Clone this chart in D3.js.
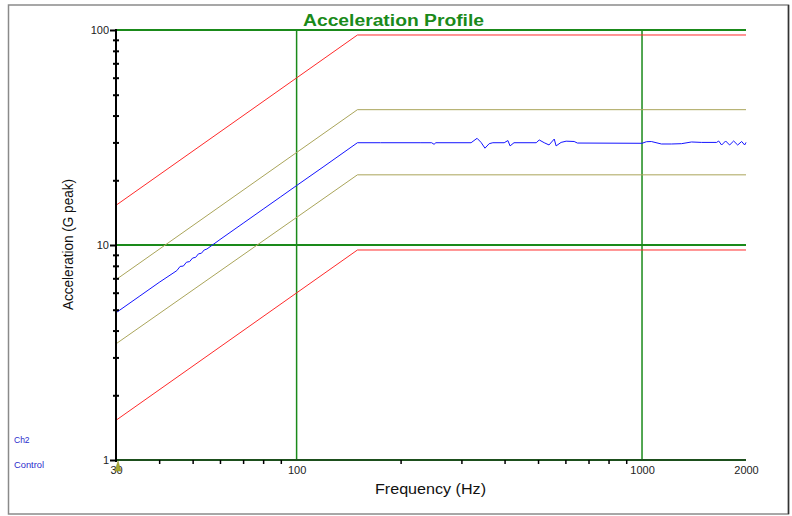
<!DOCTYPE html>
<html>
<head>
<meta charset="utf-8">
<script src="https://cdn.jsdelivr.net/npm/d3@7"></script>
<style>
  html, body { margin: 0; padding: 0; background: #fff; }
  svg { display: block; font-family: "Liberation Sans", Arial, sans-serif; }
</style>
</head>
<body>
<svg id="chart" width="792" height="516"></svg>
<script>
// ---- data ----
const profileFreq = [30, 150, 2000];
const abortHighG = [15.3, 94.8, 94.8];
const alarmHighG = [6.9, 42.6, 42.6];
const alarmLowG  = [3.47, 21.2, 21.2];
const abortLowG  = [1.53, 9.48, 9.48];

const controlFreq = [30, 35, 40, 45, 46, 47, 48, 49, 50, 51, 52, 53, 54, 55, 60, 70, 80, 90, 100, 120, 150,
  175, 229, 246, 250, 253, 320, 333, 342, 351, 361, 370, 399, 409, 415, 426, 494, 504, 521, 538, 557, 564,
  583, 603, 636, 650, 1000, 1030, 1064, 1138, 1217, 1301, 1391, 1487, 1644, 1667, 1700, 1746, 1793, 1842,
  1892, 1943, 1982, 2000];
const controlG = [4.84, 5.76, 6.70, 7.60, 7.95, 7.98, 8.32, 8.37, 8.70, 8.76, 9.10, 9.15, 9.48, 9.58, 10.60,
  12.62, 14.68, 16.77, 18.9, 23.2, 29.9,
  29.9, 29.9, 29.9, 29.4, 29.9, 29.9, 31.35, 30.0, 28.2, 29.6, 29.9, 29.9, 30.6, 28.9, 29.9, 29.9, 30.8,
  29.9, 29.2, 31.1, 28.9, 30.0, 30.4, 30.3, 29.8, 29.72, 30.23, 30.29, 29.5, 29.5, 29.6, 30.14, 30.0,
  30.0, 30.46, 29.18, 30.46, 29.18, 30.46, 29.18, 30.3, 29.18, 30.0];

const yMajorTicks = [1, 10, 100];
const yMinorTicks = [2, 3, 4, 5, 6, 7, 8, 9, 20, 30, 40, 50, 60, 70, 80, 90];
const xTickLabels = [30, 100, 1000, 2000];
const xMinorTicks = [40, 50, 60, 70, 80, 90, 200, 300, 400, 500, 600, 700, 800, 900];
const gridY = [10, 100];
const gridX = [100, 1000];

// ---- drawing ----
const svg = d3.select("#chart");
const x = d3.scaleLog().domain([30, 2000]).range([116, 746]);
const y = d3.scaleLog().domain([1, 100]).range([460, 30]);

// frame
svg.append("rect").attr("x", 8.5).attr("y", 5).attr("width", 780).attr("height", 509)
  .attr("fill", "#fff").attr("stroke", "#8a8a8a").attr("stroke-width", 1.5);
svg.append("line").attr("x1", 788.5).attr("x2", 788.5).attr("y1", 5).attr("y2", 514)
  .attr("stroke", "#333").attr("stroke-width", 1.5);

// title
svg.append("text").attr("x", 393.5).attr("y", 26).attr("text-anchor", "middle")
  .attr("font-size", 16).attr("font-weight", "bold").attr("fill", "#1a8a1a")
  .attr("textLength", 181).attr("lengthAdjust", "spacingAndGlyphs")
  .text("Acceleration Profile");

// grid
svg.selectAll(".gy").data(gridY).join("line")
  .attr("x1", x(30)).attr("x2", x(2000)).attr("y1", d => y(d)).attr("y2", d => y(d))
  .attr("stroke", "#1a8a1a").attr("stroke-width", 2);
svg.selectAll(".gx").data(gridX).join("line")
  .attr("x1", d => x(d)).attr("x2", d => x(d)).attr("y1", y(100)).attr("y2", y(1))
  .attr("stroke", "#1a8a1a").attr("stroke-width", 1.5);

// lines
const line = d3.line().x(d => x(d[0])).y(d => y(d[1]));
const series = [
  { f: profileFreq, v: abortHighG, c: "#ff2a2a" },
  { f: profileFreq, v: abortLowG, c: "#ff2a2a" },
  { f: profileFreq, v: alarmHighG, c: "#aaa55a" },
  { f: profileFreq, v: alarmLowG, c: "#aaa55a" },
  { f: controlFreq, v: controlG, c: "#1414ff" }
];
series.forEach(s => {
  svg.append("path").datum(s.f.map((f, i) => [f, s.v[i]]))
    .attr("d", line).attr("fill", "none").attr("stroke", s.c).attr("stroke-width", 1);
});

// bottom axis line
svg.append("line").attr("x1", x(30)).attr("x2", x(2000)).attr("y1", y(1)).attr("y2", y(1))
  .attr("stroke", "#1d4f1d").attr("stroke-width", 2);

// x minor ticks
const xMinor = svg.append("g").attr("transform", `translate(0,${y(1)})`)
  .call(d3.axisBottom(x).tickValues(xMinorTicks).tickSize(4).tickFormat(""));
xMinor.select(".domain").remove();
xMinor.selectAll("line").attr("stroke", "#000").attr("stroke-width", 1.5);

// x labels
const xLab = svg.append("g").attr("transform", `translate(0,${y(1)})`)
  .call(d3.axisBottom(x).tickValues(xTickLabels).tickSize(0).tickPadding(6).tickFormat(d3.format("d")));
xLab.select(".domain").remove();
xLab.selectAll("text").attr("font-size", 11).attr("fill", "#222").attr("font-family", "Liberation Sans, Arial, sans-serif");

// olive marker at start
svg.append("path").attr("d", `M${x(30) + 2},${y(1) + 1} L${x(30) - 1},${y(1) + 11} L${x(30) + 5},${y(1) + 11} Z`)
  .attr("fill", "#a8a830").attr("stroke", "#8a8a20").attr("stroke-width", 0.5);

// y axis line
svg.append("line").attr("x1", x(30)).attr("x2", x(30)).attr("y1", y(100) - 1).attr("y2", y(1) + 2)
  .attr("stroke", "#000").attr("stroke-width", 2);

// y minor ticks (crossing)
const yMinor = svg.append("g").attr("transform", `translate(${x(30) + 3},0)`)
  .call(d3.axisLeft(y).tickValues(yMinorTicks).tickSize(6).tickFormat(""));
yMinor.select(".domain").remove();
yMinor.selectAll("line").attr("stroke", "#000").attr("stroke-width", 2);

// y major ticks + labels
const yMajor = svg.append("g").attr("transform", `translate(${x(30)},0)`)
  .call(d3.axisLeft(y).tickValues(yMajorTicks).tickSize(6).tickPadding(1).tickFormat(d3.format("d")));
yMajor.select(".domain").remove();
yMajor.selectAll("line").attr("stroke", "#000").attr("stroke-width", 2);
yMajor.selectAll("text").attr("font-size", 11).attr("fill", "#222").attr("font-family", "Liberation Sans, Arial, sans-serif");

// axis titles
svg.append("text").attr("x", 430.5).attr("y", 494).attr("text-anchor", "middle")
  .attr("font-size", 15).attr("fill", "#111")
  .attr("textLength", 111).attr("lengthAdjust", "spacingAndGlyphs")
  .text("Frequency (Hz)");
svg.append("text").attr("transform", "translate(73,244.5) rotate(-90)").attr("text-anchor", "middle")
  .attr("font-size", 15).attr("fill", "#111")
  .attr("textLength", 131).attr("lengthAdjust", "spacingAndGlyphs")
  .text("Acceleration (G peak)");

// legend
svg.append("text").attr("x", 14).attr("y", 443).attr("font-size", 8.5).attr("fill", "#2a2acc").text("Ch2");
svg.append("text").attr("x", 14).attr("y", 467.5).attr("font-size", 8.5).attr("fill", "#2a2acc")
  .attr("textLength", 30).attr("lengthAdjust", "spacingAndGlyphs").text("Control");
</script>
</body>
</html>
